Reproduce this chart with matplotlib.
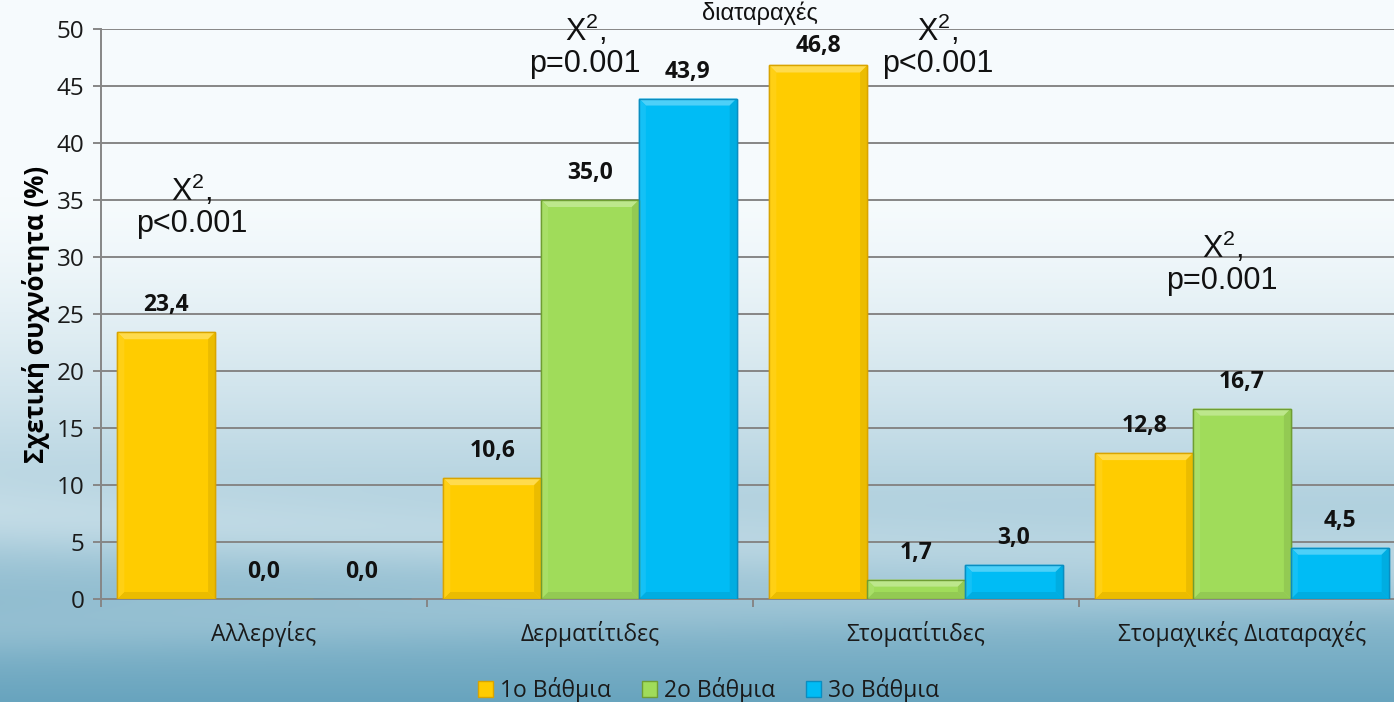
import numpy as np
import matplotlib
matplotlib.use('Agg')
import matplotlib.pyplot as plt
from matplotlib.patches import Polygon, Patch
from matplotlib.colors import to_rgb

# ---------------- data ----------------
categories = ['Αλλεργίες', 'Δερματίτιδες', 'Στοματίτιδες', 'Στομαχικές Διαταραχές']
series_names = ['1o Βάθμια', '2o Βάθμια', '3o Βάθμια']
vals_1 = [23.4, 10.6, 46.8, 12.8]
vals_2 = [0.0, 35.0, 1.7, 16.7]
vals_3 = [0.0, 43.9, 3.0, 4.5]
yticks = [0, 5, 10, 15, 20, 25, 30, 35, 40, 45, 50]
ylabel = 'Σχετική συχνότητα (%)'
stat_texts = ['X$^{2}$,\np<0.001', 'X$^{2}$,\np=0.001', 'X$^{2}$,\np<0.001', 'X$^{2}$,\np=0.001']
top_text = 'διαταραχές'

# ---------------- style / layout ----------------
stat_pos = [(-0.221, 34.5), (0.985, 48.5), (2.067, 48.5), (2.939, 29.5)]
face_cols = ['#FFCC00', '#A0DC5A', '#00BCF5']
edge_cols = ['#D9A400', '#6F9E33', '#0A8DC0']
W, H = 1394, 702
DPI = 100
CAL = 'Open Sans'
ARIAL = 'Liberation Sans'

plt.rcParams['mathtext.fontset'] = 'custom'
plt.rcParams['mathtext.rm'] = ARIAL
plt.rcParams['mathtext.it'] = ARIAL
plt.rcParams['mathtext.default'] = 'regular'

fig = plt.figure(figsize=(W / DPI, H / DPI), dpi=DPI)

# background gradient
ny, nx = 351, 697
yy, xx = np.mgrid[0:1:ny * 1j, 0:1:nx * 1j]
c_top = np.array([246, 251, 253]) / 255.0
c_bot = np.array([104, 164, 190]) / 255.0
t = np.clip((yy - 0.28) / 0.72, 0, 1) ** 1.4
sw1 = np.exp(-((yy - (0.74 + 0.10 * xx - 0.05 * xx ** 2)) / 0.05) ** 2) * 0.16
sw2 = np.exp(-((yy - (0.90 - 0.06 * xx)) / 0.04) ** 2) * 0.10
t = np.clip(t - sw1 - sw2, 0, 1)
img = c_top[None, None, :] * (1 - t[..., None]) + c_bot[None, None, :] * t[..., None]
bg = fig.add_axes([0, 0, 1, 1], zorder=0)
bg.imshow(img, aspect='auto', extent=[0, 1, 0, 1], origin='upper', interpolation='bilinear')
bg.axis('off')

ax_left, ax_bot, ax_w, ax_h = 101 / W, 103 / H, 1304 / W, 570 / H
ax = fig.add_axes([ax_left, ax_bot, ax_w, ax_h], zorder=1)
ax.set_facecolor('none')
ax.set_xlim(-0.5, 3.5)
ax.set_ylim(0, 50)

x = np.arange(len(categories))
bw = 0.30
series = [vals_1, vals_2, vals_3]
offsets = [-bw, 0, bw]

ax.set_yticks(yticks)
ax.yaxis.grid(True, color='#868686', linewidth=1.4, zorder=0)
ax.set_axisbelow(True)
for s in ['top', 'right']:
    ax.spines[s].set_visible(False)
for s in ['left', 'bottom']:
    ax.spines[s].set_color('#868686')
    ax.spines[s].set_linewidth(1.4)

ax.tick_params(axis='y', direction='out', length=6, width=1.4, color='#868686',
               pad=6, labelsize=17.5, labelcolor='#1a1a1a')
for lbl in ax.get_yticklabels():
    lbl.set_fontfamily(CAL)

ax.set_xticks(np.arange(-0.5, 3.5, 1.0))
ax.set_xticklabels([])
ax.tick_params(axis='x', which='major', direction='out', length=6, width=1.4, color='#868686')
ax.set_xticks(x, minor=True)
ax.set_xticklabels(categories, minor=True, fontsize=16.5, fontfamily=CAL, color='#1a1a1a')
ax.tick_params(axis='x', which='minor', length=0, pad=16)

ax.set_ylabel(ylabel, fontsize=18.5, fontweight='bold', fontfamily=CAL, labelpad=5)

fig.canvas.draw()
ppx = ax_w * W / 4.0
ppy = ax_h * H / 50.0
bev_x = 7.0 / ppx
bev_y = 7.0 / ppy


def shade(c, f):
    r = np.array(to_rgb(c))
    if f >= 0:
        return tuple(r + (1 - r) * f)
    return tuple(r * (1 + f))


for si, (vals, off) in enumerate(zip(series, offsets)):
    bars = ax.bar(x + off, vals, width=bw, color=face_cols[si], edgecolor=edge_cols[si],
                  linewidth=1.0, zorder=3, label=series_names[si])
    for rect, v in zip(bars, vals):
        x0, y0 = rect.get_x(), rect.get_y()
        x1, y1 = x0 + rect.get_width(), y0 + rect.get_height()
        if rect.get_height() > 0:
            by = min(bev_y, rect.get_height() / 2.0)
            bx = bev_x
            fc = face_cols[si]
            top = Polygon([(x0, y1), (x1, y1), (x1 - bx, y1 - by), (x0 + bx, y1 - by)],
                          closed=True, facecolor=shade(fc, 0.30), edgecolor='none', zorder=4)
            bot = Polygon([(x0, y0), (x1, y0), (x1 - bx, y0 + by), (x0 + bx, y0 + by)],
                          closed=True, facecolor=shade(fc, -0.08), edgecolor='none', zorder=4)
            lft = Polygon([(x0, y0), (x0, y1), (x0 + bx, y1 - by), (x0 + bx, y0 + by)],
                          closed=True, facecolor=shade(fc, 0.08), edgecolor='none', zorder=4)
            rgt = Polygon([(x1, y0), (x1, y1), (x1 - bx, y1 - by), (x1 - bx, y0 + by)],
                          closed=True, facecolor=shade(fc, -0.08), edgecolor='none', zorder=4)
            for p in (top, bot, lft, rgt):
                ax.add_patch(p)
            ax.add_patch(plt.Rectangle((x0, y0), x1 - x0, y1 - y0, fill=False,
                                       edgecolor=edge_cols[si], linewidth=1.0, zorder=5))
        ytop_px = ppy * v
        lab_px = min(ytop_px + 27, ppy * 50 - 17)
        ax.text(x0 + bw / 2, lab_px / ppy, f'{v:.1f}'.replace('.', ','), ha='center', va='center',
                fontsize=16.5, fontweight='bold', fontfamily=CAL, color='#111111', zorder=6)

for txt, (px, py) in zip(stat_texts, stat_pos):
    ax.text(px, py, txt, ha='center', va='center', multialignment='center', fontsize=22,
            fontfamily=ARIAL, color='#111111', linespacing=1.05, zorder=6, clip_on=False)

fig.text(760 / W, 1 - 20 / H, top_text, ha='center', va='baseline', fontsize=17,
         fontfamily=ARIAL, color='#111111')

handles = [Patch(facecolor=face_cols[i], edgecolor=edge_cols[i], label=series_names[i])
           for i in range(3)]
leg = fig.legend(handles=handles, loc='center', bbox_to_anchor=(708.5 / W, 1 - 690 / H),
                 ncol=3, frameon=False, handlelength=0.65, handleheight=0.65,
                 handletextpad=0.3, columnspacing=1.35,
                 prop={'family': CAL, 'size': 16.5})
for t_ in leg.get_texts():
    t_.set_color('#1a1a1a')

fig.savefig('out.png', dpi=DPI)
